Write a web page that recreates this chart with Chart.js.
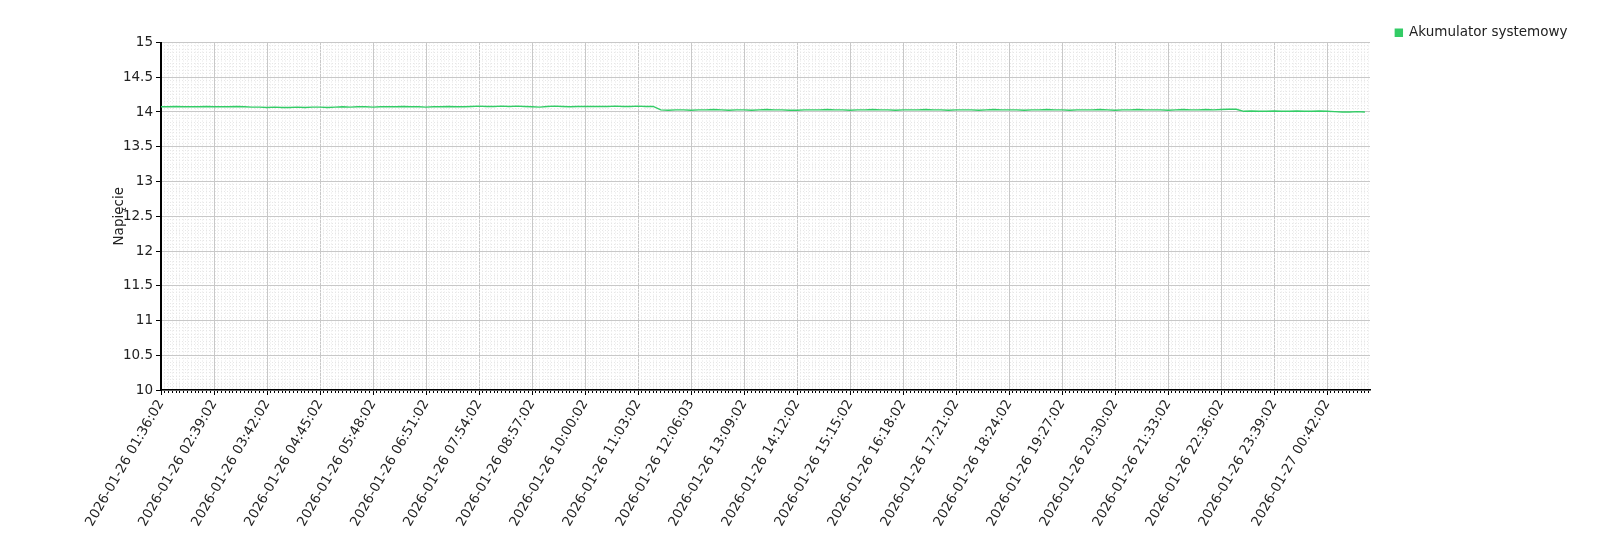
<!DOCTYPE html>
<html>
<head>
<meta charset="utf-8">
<script src="https://cdn.jsdelivr.net/npm/chart.js@4.4.1/dist/chart.umd.min.js"></script>
<style>
  body { margin: 0; background: #fff; }
</style>
</head>
<body>
<canvas id="chart" width="1600" height="550"></canvas>
<script>
// minutes after 2026-01-26 01:36:02 where the labelled ticks sit
const tickMinutes = [0, 63, 126, 189, 252, 315, 378, 441, 504, 567, 630, 693, 756,
    819, 882, 945, 1008, 1071, 1134, 1197, 1260, 1323, 1386];
const tickLabels = [
    '2026-01-26 01:36:02', '2026-01-26 02:39:02', '2026-01-26 03:42:02', '2026-01-26 04:45:02',
    '2026-01-26 05:48:02', '2026-01-26 06:51:02', '2026-01-26 07:54:02', '2026-01-26 08:57:02',
    '2026-01-26 10:00:02', '2026-01-26 11:03:02', '2026-01-26 12:06:03', '2026-01-26 13:09:02',
    '2026-01-26 14:12:02', '2026-01-26 15:15:02', '2026-01-26 16:18:02', '2026-01-26 17:21:02',
    '2026-01-26 18:24:02', '2026-01-26 19:27:02', '2026-01-26 20:30:02', '2026-01-26 21:33:02',
    '2026-01-26 22:36:02', '2026-01-26 23:39:02', '2026-01-27 00:42:02'
];
const sampleStep = 9; // minutes between readings
const endMinute = 1437;

// Akumulator systemowy, napięcie [V]
const voltage = [
    14.075, 14.075, 14.08, 14.075, 14.075, 14.075, 14.08, 14.075, 14.075, 14.075, 14.08,
    14.075, 14.07, 14.07, 14.065, 14.07, 14.065, 14.065, 14.07, 14.065, 14.07, 14.07, 14.065,
    14.07, 14.075, 14.07, 14.075, 14.075, 14.07, 14.075, 14.075, 14.075, 14.08, 14.075, 14.075,
    14.07, 14.075, 14.075, 14.08, 14.075, 14.075, 14.08, 14.085, 14.08, 14.08, 14.085,
    14.08, 14.085, 14.08, 14.075, 14.07, 14.08, 14.085, 14.08, 14.075, 14.08,
    14.08, 14.08, 14.08, 14.08, 14.085, 14.08, 14.08, 14.085, 14.08, 14.08,
    14.03, 14.025, 14.03, 14.03, 14.025, 14.03, 14.03, 14.035, 14.03, 14.025,
    14.03, 14.03, 14.025, 14.03, 14.035, 14.03, 14.03, 14.025, 14.025, 14.03,
    14.03, 14.03, 14.035, 14.03, 14.03, 14.025, 14.03, 14.03, 14.035, 14.03,
    14.03, 14.025, 14.03, 14.03, 14.03, 14.035, 14.03, 14.03, 14.025, 14.03,
    14.03, 14.03, 14.025, 14.03, 14.035, 14.03, 14.03, 14.03, 14.025, 14.03,
    14.03, 14.035, 14.03, 14.03, 14.025, 14.03, 14.03, 14.03, 14.035, 14.03,
    14.025, 14.03, 14.03, 14.035, 14.03, 14.03, 14.03, 14.025, 14.03, 14.035,
    14.03, 14.03, 14.035, 14.03, 14.035, 14.04, 14.04,
    14.01, 14.015, 14.01, 14.01, 14.015, 14.01, 14.01, 14.015, 14.01, 14.01,
    14.015, 14.01, 14.005, 14.0, 14.0, 14.005, 14.0
];

const green = '#33cc66';
const font = { family: 'DejaVu Sans', size: 13.5 };

const points = voltage.map((v, i) => ({ x: i * sampleStep, y: v }));

// legend sits close above the plot: trim most of the fixed 10px Chart.js adds under a top legend
const tightLegend = {
    id: 'tightLegend',
    beforeLayout(chart) {
        const lg = chart.legend;
        if (lg && !lg._tight) {
            const fit = lg.fit.bind(lg);
            lg.fit = function () { fit(); this.height -= 7; };
            lg._tight = true;
        }
    }
};

const ctx = document.getElementById('chart').getContext('2d');
const chart = new Chart(ctx, {
    type: 'line',
    data: {
        datasets: [{
            label: 'Akumulator systemowy',
            data: points,
            borderColor: green,
            backgroundColor: green,
            borderWidth: 1.4,
            pointRadius: 0,
            tension: 0
        }]
    },
    options: {
        responsive: false,
        animation: false,
        layout: { padding: { left: 107, right: 25, top: 18.5, bottom: 0 } },
        plugins: {
            tooltip: { enabled: false },
            legend: {
                position: 'top',
                align: 'end',
                labels: { boxWidth: 7, boxHeight: 7, padding: 7.5, color: '#222', font: font }
            }
        },
        scales: {
            x: {
                type: 'linear',
                min: 0,
                max: endMinute,
                weight: 0,
                afterBuildTicks: s => { s.ticks = tickMinutes.map(v => ({ value: v })); },
                afterFit: s => { s.height = 160; },
                ticks: {
                    autoSkip: false,
                    minRotation: 60,
                    maxRotation: 60,
                    color: '#222',
                    font: font,
                    padding: 2,
                    callback: (v, i) => tickLabels[i]
                },
                grid: { color: '#c8c8c8', tickColor: '#000', tickLength: 5 },
                border: { color: '#000', width: 1.5 }
            },
            xMinor: {
                type: 'linear',
                position: 'bottom',
                min: 0,
                max: endMinute,
                weight: -1,
                afterBuildTicks: s => {
                    const t = [];
                    for (let k = 0; k * 4.5 <= endMinute; k++) {
                        if (k % 14 !== 0) t.push({ value: k * 4.5 });
                    }
                    s.ticks = t;
                },
                afterFit: s => { s.height = 0; },
                ticks: { display: false },
                grid: { color: '#e6e6e6', tickColor: '#000', tickLength: 3 },
                border: { display: false, dash: [1, 2] }
            },
            y: {
                min: 10,
                max: 15,
                weight: 0,
                afterFit: s => { s.width = 54; },
                ticks: {
                    stepSize: 0.5,
                    color: '#222',
                    font: font,
                    padding: 3,
                    callback: v => String(Number(v.toFixed(1)))
                },
                title: { display: true, text: 'Napięcie', color: '#222', font: font },
                grid: { color: '#c8c8c8', tickColor: '#000', tickLength: 5 },
                border: { color: '#000', width: 2 }
            },
            yMinor: {
                position: 'left',
                min: 10,
                max: 15,
                weight: -1,
                afterBuildTicks: s => {
                    const t = [];
                    for (let k = 0; k <= 100; k++) {
                        if (k % 10 !== 0) t.push({ value: 10 + k * 0.05 });
                    }
                    s.ticks = t;
                },
                afterFit: s => { s.width = 0; },
                ticks: { display: false },
                grid: { color: '#e6e6e6', drawTicks: false },
                border: { display: false, dash: [1, 2] }
            },
            yPad: {
                position: 'right',
                display: true,
                afterFit: s => { s.width = 205; },
                ticks: { display: false },
                grid: { display: false },
                border: { display: false }
            }
        }
    },
    plugins: [tightLegend]
});
</script>
</body>
</html>
